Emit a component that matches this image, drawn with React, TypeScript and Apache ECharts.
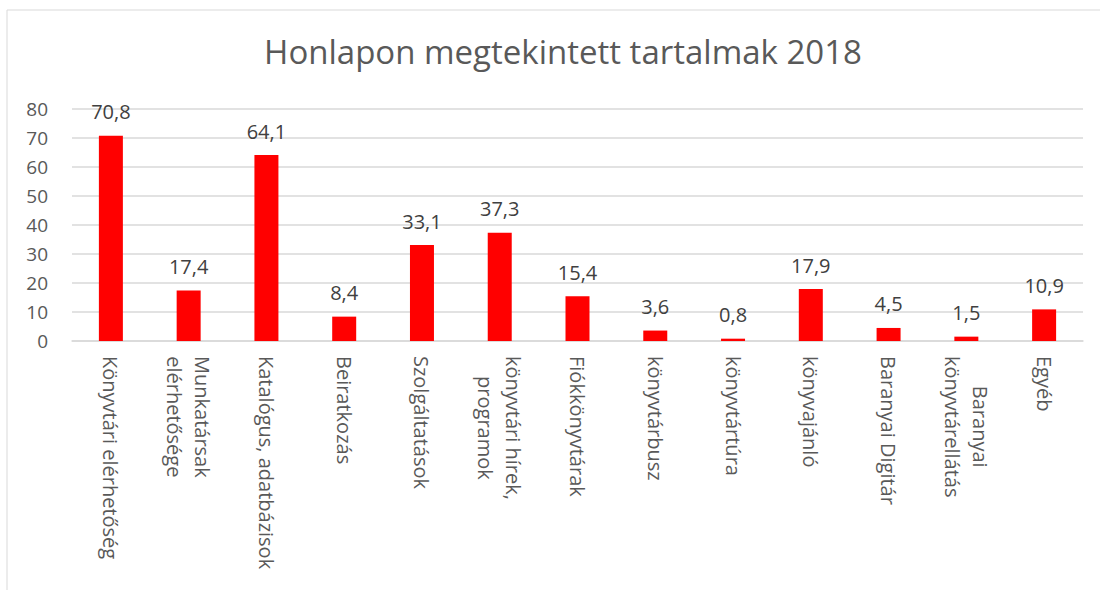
import React, { useEffect, useRef } from "react";
import * as echarts from "echarts";

const titleText = "Honlapon megtekintett tartalmak 2018";
const categories = [
  "Könyvtári elérhetőség",
  "Munkatársak\nelérhetősége",
  "Katalógus, adatbázisok",
  "Beiratkozás",
  "Szolgáltatások",
  "könyvtári hírek,\nprogramok",
  "Fiókkönyvtárak",
  "könyvtárbusz",
  "könyvtártúra",
  "könyvajánló",
  "Baranyai Digitár",
  "Baranyai\nkönyvtárellátás",
  "Egyéb",
];
const values = [70.8, 17.4, 64.1, 8.4, 33.1, 37.3, 15.4, 3.6, 0.8, 17.9, 4.5, 1.5, 10.9];
const yMin = 0;
const yMax = 80;
const yInterval = 10;

const FONT = "'Open Sans', sans-serif";

export default function App() {
  const ref = useRef<HTMLDivElement>(null);
  useEffect(() => {
    document.body.style.margin = "0";
    const chart = echarts.init(ref.current!, null, { renderer: "svg" });
    chart.setOption({
      animation: false,
      title: {
        text: titleText,
        left: 558,
        top: 30,
        textAlign: "center",
        textStyle: { fontFamily: FONT, fontSize: 33, fontWeight: "normal", color: "#595959" },
      },
      graphic: [
        {
          type: "rect",
          shape: { x: 7, y: 10, width: 1200, height: 700 },
          style: { fill: "none", stroke: "#d9d9d9", lineWidth: 1 },
          silent: true,
        },
      ],
      grid: { left: 72, right: 17, top: 109, bottom: 249, containLabel: false },
      xAxis: {
        type: "category",
        data: categories,
        axisTick: { show: false },
        axisLine: { lineStyle: { color: "#d9d9d9", width: 1.5 } },
        axisLabel: {
          interval: 0,
          rotate: -90,
          margin: 15,
          color: "#595959",
          fontFamily: FONT,
          fontSize: 20,
          formatter: (v: string) => v.split("\n").map((l) => `{c|${l}}`).join("\n"),
          rich: {
            c: { align: "center", fontFamily: FONT, fontSize: 20, color: "#595959", lineHeight: 28 },
          },
        },
      },
      yAxis: {
        type: "value",
        min: yMin,
        max: yMax,
        interval: yInterval,
        axisLine: { show: false },
        axisTick: { show: false },
        splitLine: { lineStyle: { color: "#d9d9d9", width: 1.5 } },
        axisLabel: { margin: 24, color: "#595959", fontFamily: FONT, fontSize: 19 },
      },
      series: [
        {
          type: "bar",
          data: values,
          barWidth: 24,
          itemStyle: { color: "#ff0000" },
          label: {
            show: true,
            position: "top",
            distance: 14,
            color: "#404040",
            fontFamily: FONT,
            fontSize: 20,
            formatter: (p: any) => String(p.value).replace(".", ","),
          },
        },
      ],
    });
    return () => chart.dispose();
  }, []);
  return <div ref={ref} style={{ width: 1100, height: 590 }} />;
}
